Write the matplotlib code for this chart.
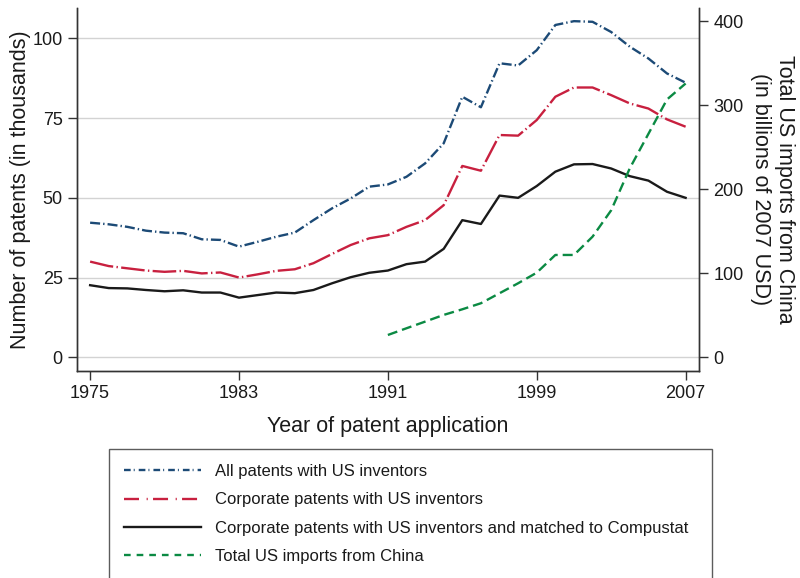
import numpy as np
import matplotlib

matplotlib.use("Agg")
import matplotlib.pyplot as plt
from matplotlib.lines import Line2D

plt.rcParams["font.family"] = ["Liberation Sans", "DejaVu Sans"]
plt.rcParams["lines.scale_dashes"] = False

# data
years = list(range(1975, 2008))
all_patents = [42.2, 41.7, 40.9, 39.7, 39.1, 38.9, 37.0, 36.8, 34.7, 36.2,
               37.8, 39.1, 43.0, 46.7, 49.8, 53.5, 54.2, 56.6, 60.8, 67.1,
               81.7, 78.4, 92.2, 91.5, 96.3, 104.2, 105.4, 105.2, 102.0, 97.4,
               93.7, 89.0, 86.1]
corp_patents = [30.0, 28.6, 27.9, 27.2, 26.8, 27.1, 26.3, 26.6, 25.0, 26.0,
                27.1, 27.6, 29.5, 32.4, 35.2, 37.3, 38.3, 40.9, 43.0, 47.7,
                60.0, 58.5, 69.7, 69.5, 74.4, 81.7, 84.6, 84.6, 82.2, 79.6,
                78.0, 74.6, 72.3]
compustat_patents = [22.6, 21.7, 21.6, 21.1, 20.7, 21.0, 20.3, 20.3, 18.7, 19.5,
                     20.3, 20.1, 21.1, 23.2, 25.1, 26.5, 27.2, 29.2, 30.0, 34.0,
                     43.0, 41.8, 50.7, 50.0, 53.7, 58.2, 60.5, 60.6, 59.2, 56.8,
                     55.4, 51.9, 50.0]
import_years = list(range(1991, 2008))
china_imports = [26.5, 34.5, 42.4, 50.4, 57.1, 64.3, 76.2, 88.1, 100.7, 121.8,
                 121.8, 143.6, 175.0, 225.0, 266.0, 307.0, 326.0]

labels = ["All patents with US inventors",
          "Corporate patents with US inventors",
          "Corporate patents with US inventors and matched to Compustat",
          "Total US imports from China"]

c_blue = "#1c4a76"
c_red = "#c8203f"
c_black = "#1a1a1a"
c_green = "#0b8a43"
lw = 1.7

fig = plt.figure(figsize=(8, 5.78), dpi=100)
ax = fig.add_axes([0.0959, 0.3587, 0.874 - 0.0959, 0.986 - 0.3587])
ax2 = ax.twinx()

ax.plot(years, all_patents, color=c_blue, lw=lw, dashes=(7.2, 2.2, 1.0, 2.2))
ax.plot(years, corp_patents, color=c_red, lw=lw, dashes=(17, 2.4, 1.0, 2.4))
ax.plot(years, compustat_patents, color=c_black, lw=lw)
ax2.plot(import_years, china_imports, color=c_green, lw=lw, dashes=(7.2, 3.6))

ax.set_xlim(1974.28, 2007.73)
ax.set_ylim(-4.2, 109.5)
ax2.set_ylim(-16, 415.8)
ax.set_xticks([1975, 1983, 1991, 1999, 2007])
ax.set_yticks([0, 25, 50, 75, 100])
ax2.set_yticks([0, 100, 200, 300, 400])
ax.yaxis.grid(True, color="#d3d3d3", lw=1)
ax.set_axisbelow(True)

for a in (ax, ax2):
    a.spines["top"].set_visible(False)
    for s in ("left", "right", "bottom"):
        a.spines[s].set_color("#333333")
        a.spines[s].set_linewidth(1.0)
    a.tick_params(direction="out", length=6.5, width=1.0, color="#333333",
                  labelsize=13, pad=3.6, labelcolor="#1a1a1a")

ax.set_xlabel("Year of patent application", fontsize=15.5, color="#1a1a1a",
              labelpad=10)
ax.set_ylabel("Number of patents (in thousands)", fontsize=15.5,
              color="#1a1a1a", labelpad=1)
ax2.set_ylabel("Total US imports from China\n(in billions of 2007 USD)",
               fontsize=15.5, color="#1a1a1a", rotation=270, labelpad=37,
               linespacing=1.15)

handles = [
    Line2D([], [], color=c_blue, lw=lw, dashes=(4.8, 2.2, 0.7, 2.9)),
    Line2D([], [], color=c_red, lw=lw, dashes=(10.8, 5.5, 0.8, 3.8)),
    Line2D([], [], color=c_black, lw=lw),
    Line2D([], [], color=c_green, lw=lw, dashes=(4.8, 4.3)),
]
leg = fig.legend(handles, labels, loc="upper left",
                 bbox_to_anchor=(109 / 800, 1 - 449 / 578, 603 / 800, 0.0),
                 mode="expand", borderaxespad=0, fontsize=12,
                 handlelength=4.6, handletextpad=0.84, borderpad=0.9,
                 labelspacing=0.8, fancybox=False, frameon=True)
leg.get_frame().set_edgecolor("#333333")
leg.get_frame().set_linewidth(1.0)
for t in leg.get_texts():
    t.set_color("#1a1a1a")

plt.savefig("out.png", dpi=100)
